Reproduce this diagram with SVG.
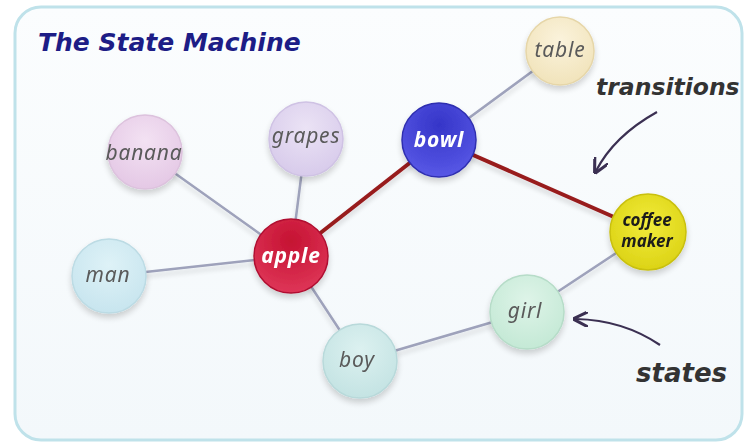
<svg xmlns="http://www.w3.org/2000/svg" width="746" height="444" viewBox="0 0 746 444">
  <defs>
    <style>
      .label { font-family: "Noto Sans", "DejaVu Sans", sans-serif; font-style: italic; font-size: 21px; letter-spacing: 0.8px; text-anchor: middle; fill: #5a5a5a; }
      .label.light { fill: #ffffff; font-weight: bold; }
      .label.dark { fill: #1a1a1a; font-weight: bold; font-size: 17px; letter-spacing: 0; }
      .edge { stroke: #9ea2bb; stroke-width: 2.5; fill: none; stroke-linecap: round; }
      .trans { stroke: #981b1e; stroke-width: 4; fill: none; stroke-linecap: round; }
      .note { font-family: "DejaVu Sans", sans-serif; font-style: italic; font-weight: bold; fill: #333333; }
      .pointer { stroke: #3b3052; stroke-width: 2.2; fill: none; }
      .node circle { stroke-width: 1.5; }
    </style>
    <linearGradient id="bg" x1="0" y1="0" x2="0" y2="1">
      <stop offset="0" stop-color="#fbfdfe"/>
      <stop offset="1" stop-color="#f3f8fb"/>
    </linearGradient>
    <radialGradient id="gPink" cx="0.5" cy="0.35" r="0.7">
      <stop offset="0" stop-color="#f3e2f3"/><stop offset="1" stop-color="#e3c6e4"/>
    </radialGradient>
    <radialGradient id="gLav" cx="0.5" cy="0.35" r="0.7">
      <stop offset="0" stop-color="#ebe3f5"/><stop offset="1" stop-color="#d6c9ea"/>
    </radialGradient>
    <radialGradient id="gRed" cx="0.5" cy="0.3" r="0.75">
      <stop offset="0" stop-color="#c51232"/><stop offset="1" stop-color="#e0385a"/>
    </radialGradient>
    <radialGradient id="gBlue" cx="0.5" cy="0.3" r="0.75">
      <stop offset="0" stop-color="#3535c8"/><stop offset="1" stop-color="#5a5ae8"/>
    </radialGradient>
    <radialGradient id="gSky" cx="0.5" cy="0.35" r="0.7">
      <stop offset="0" stop-color="#def2f7"/><stop offset="1" stop-color="#c6e4ee"/>
    </radialGradient>
    <radialGradient id="gTeal" cx="0.5" cy="0.35" r="0.7">
      <stop offset="0" stop-color="#dcf1f0"/><stop offset="1" stop-color="#c2e2e2"/>
    </radialGradient>
    <radialGradient id="gMint" cx="0.5" cy="0.35" r="0.7">
      <stop offset="0" stop-color="#def4e8"/><stop offset="1" stop-color="#c2e8d4"/>
    </radialGradient>
    <radialGradient id="gYellow" cx="0.5" cy="0.4" r="0.7">
      <stop offset="0" stop-color="#f2ec3a"/><stop offset="1" stop-color="#d8cf10"/>
    </radialGradient>
    <radialGradient id="gCream" cx="0.5" cy="0.35" r="0.7">
      <stop offset="0" stop-color="#fbf3dc"/><stop offset="1" stop-color="#f0e2b8"/>
    </radialGradient>
    <filter id="shadow" x="-30%" y="-30%" width="160%" height="180%">
      <feGaussianBlur in="SourceAlpha" stdDeviation="3"/>
      <feOffset dy="4" result="b"/>
      <feComponentTransfer><feFuncA type="linear" slope="0.18"/></feComponentTransfer>
      <feMerge><feMergeNode/><feMergeNode in="SourceGraphic"/></feMerge>
    </filter>
    <filter id="lineShadow" x="-10%" y="-10%" width="120%" height="140%">
      <feGaussianBlur in="SourceAlpha" stdDeviation="2.5"/>
      <feOffset dy="4"/>
      <feComponentTransfer><feFuncA type="linear" slope="0.15"/></feComponentTransfer>
      <feMerge><feMergeNode/><feMergeNode in="SourceGraphic"/></feMerge>
    </filter>
    <marker id="head" viewBox="0 0 10 10" refX="8" refY="5" markerWidth="7" markerHeight="7" orient="auto">
      <path d="M0,0 L10,5 L0,10" fill="none" stroke="#3b3052" stroke-width="2"/>
    </marker>
  </defs>

  <rect width="746" height="444" fill="#ffffff"/>
  <!-- frame -->
  <rect x="15" y="7" width="727" height="433" rx="26" fill="url(#bg)" stroke="#bfe2ea" stroke-width="3"/>

  <text x="38" y="51" class="note" font-size="25" style="fill:#1d1d86">The State Machine</text>

  <!-- connectors -->
  <g id="connectors" filter="url(#lineShadow)">
    <line class="edge" x1="145" y1="152" x2="291" y2="256"/>
    <line class="edge" x1="306" y1="139" x2="291" y2="256"/>
    <line class="edge" x1="109" y1="276" x2="291" y2="256"/>
    <line class="edge" x1="291" y1="256" x2="360" y2="361"/>
    <line class="edge" x1="360" y1="361" x2="527" y2="312"/>
    <line class="edge" x1="527" y1="312" x2="648" y2="232"/>
    <line class="edge" x1="560" y1="51" x2="439" y2="140"/>
    <line class="trans" x1="291" y1="256" x2="439" y2="140"/>
    <line class="trans" x1="439" y1="140" x2="648" y2="232"/>
  </g>

  <!-- nodes -->
  <g id="banana" class="node" filter="url(#shadow)">
    <circle cx="145" cy="152" r="37" fill="url(#gPink)" stroke="#dcc2dd"/>
    <text class="label" x="144" y="160">banana</text>
  </g>
  <g id="grapes" class="node" filter="url(#shadow)">
    <circle cx="306" cy="139" r="37" fill="url(#gLav)" stroke="#cfc2e4"/>
    <text class="label" x="306" y="143">grapes</text>
  </g>
  <g id="apple" class="node" filter="url(#shadow)">
    <circle cx="291" cy="256" r="37" fill="url(#gRed)" stroke="#b01030"/>
    <text class="label light" x="291" y="263">apple</text>
  </g>
  <g id="man" class="node" filter="url(#shadow)">
    <circle cx="109" cy="276" r="37" fill="url(#gSky)" stroke="#bcdbe4"/>
    <text class="label" x="108" y="282">man</text>
  </g>
  <g id="boy" class="node" filter="url(#shadow)">
    <circle cx="360" cy="361" r="37" fill="url(#gTeal)" stroke="#b8d9da"/>
    <text class="label" x="357" y="367">boy</text>
  </g>
  <g id="girl" class="node" filter="url(#shadow)">
    <circle cx="527" cy="312" r="37" fill="url(#gMint)" stroke="#b6dcc8"/>
    <text class="label" x="525" y="318">girl</text>
  </g>
  <g id="bowl" class="node" filter="url(#shadow)">
    <circle cx="439" cy="140" r="37" fill="url(#gBlue)" stroke="#2f2fb0"/>
    <text class="label light" x="439" y="147">bowl</text>
  </g>
  <g id="table" class="node" filter="url(#shadow)">
    <circle cx="560" cy="51" r="34" fill="url(#gCream)" stroke="#e6d6a8"/>
    <text class="label" x="560" y="57">table</text>
  </g>
  <g id="coffee-maker" class="node" filter="url(#shadow)">
    <circle cx="648" cy="232" r="38" fill="url(#gYellow)" stroke="#c9c010"/>
    <text class="label dark" x="647" y="226">coffee</text>
    <text class="label dark" x="647" y="247">maker</text>
  </g>

  <!-- annotations -->
  <g id="notes">
    <text class="note" x="596" y="95" font-size="23.5">transitions</text>
    <path class="pointer" d="M657,112 Q614,136 596,171" marker-end="url(#head)"/>
    <text class="note" x="636" y="382" font-size="26">states</text>
    <path class="pointer" d="M660,345 Q623,320 576,319" marker-end="url(#head)"/>
  </g>
</svg>
